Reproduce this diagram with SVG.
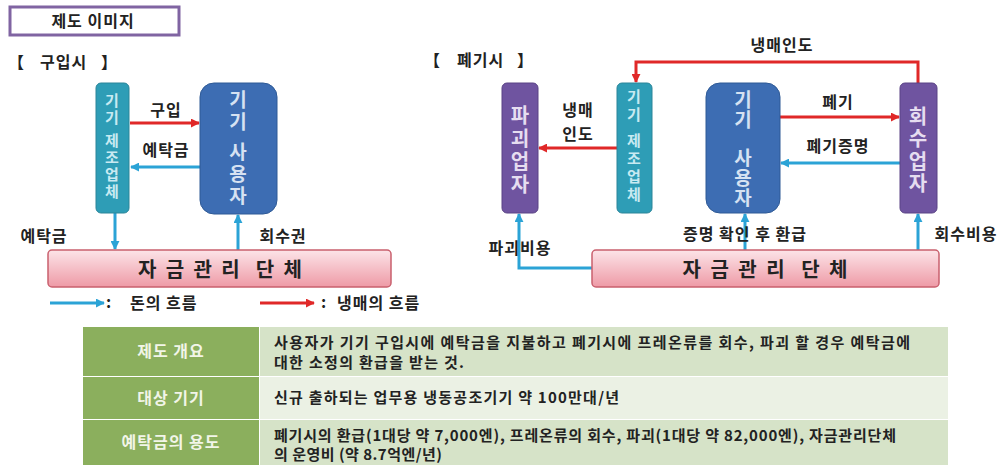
<svg xmlns="http://www.w3.org/2000/svg" width="1005" height="465" viewBox="0 0 1005 465" xml:space="preserve">
<defs>
<style>
text{font-family:"Noto Sans CJK KR","Noto Sans",sans-serif;white-space:pre;}
.lbl{font-size:16px;font-weight:bold;fill:#222;letter-spacing:1px;}
.v{writing-mode:vertical-rl;text-orientation:upright;text-anchor:start;font-weight:bold;}
.vt-teal{font-size:15px;fill:#C8EAF2;}
.vt-big{font-size:19px;fill:#D6E2F2;}
.vt-pur{font-size:20px;fill:#E6DDF0;}
.fund{font-size:20px;font-weight:bold;fill:#222;text-anchor:middle;}
.blue{stroke:#2BA3D6;stroke-width:3;fill:none;}
.red{stroke:#E02828;stroke-width:3;fill:none;}
.teal{fill:#2E9DB6;stroke:#2A8599;stroke-width:1;}
.user{fill:#3D6DB3;stroke:#2F5A96;stroke-width:1;}
.pur{fill:#6F54A0;stroke:#5A4385;stroke-width:1;}
.pink{fill:url(#pg);stroke:#C9606E;stroke-width:1.5;}
.th{font-size:16px;fill:#F2F5E8;text-anchor:middle;font-weight:bold;letter-spacing:1px;}
.td{font-size:15px;fill:#222;font-weight:bold;}
</style>
<linearGradient id="pg" x1="0" y1="0" x2="0" y2="1">
<stop offset="0" stop-color="#FCE4E8"/>
<stop offset="1" stop-color="#EE9AA6"/>
</linearGradient>
<marker id="ab" viewBox="0 0 10 10" refX="9" refY="5" markerWidth="9" markerHeight="9" markerUnits="userSpaceOnUse" orient="auto">
<path d="M0,0 L10,5 L0,10 z" fill="#2BA3D6"/>
</marker>
<marker id="ar" viewBox="0 0 10 10" refX="9" refY="5" markerWidth="9" markerHeight="9" markerUnits="userSpaceOnUse" orient="auto">
<path d="M0,0 L10,5 L0,10 z" fill="#E02828"/>
</marker>
</defs>
<rect width="1005" height="465" fill="#FFFFFF"/>

<g id="title">
<rect x="10" y="7" width="169" height="28" fill="#FFFFFF" stroke="#8064A2" stroke-width="3"/>
<text x="93" y="27" class="lbl" text-anchor="middle">제도 이미지</text>
</g>
<g id="headings">
<text x="8" y="68" class="lbl">【</text>
<text x="40" y="68" class="lbl">구입시</text>
<text x="101" y="68" class="lbl">】</text>
<text x="424" y="66" class="lbl">【</text>
<text x="457" y="66" class="lbl">폐기시</text>
<text x="517" y="66" class="lbl">】</text>
</g>

<g id="connectors">
<line x1="130" y1="123" x2="199" y2="123" class="red" marker-end="url(#ar)"/>
<line x1="200" y1="167" x2="131" y2="167" class="blue" marker-end="url(#ab)"/>
<line x1="115" y1="213" x2="115" y2="249" class="blue" marker-end="url(#ab)"/>
<line x1="238" y1="250" x2="238" y2="215" class="blue" marker-end="url(#ab)"/>
<line x1="617" y1="148" x2="539" y2="148" class="red" marker-end="url(#ar)"/>
<polyline points="593,268 519,268 519,214" class="blue" marker-end="url(#ab)"/>
<line x1="780" y1="117" x2="899" y2="117" class="red" marker-end="url(#ar)"/>
<line x1="900" y1="163" x2="781" y2="163" class="blue" marker-end="url(#ab)"/>
<polyline points="918,83 918,62 636,62 636,82" class="red" marker-end="url(#ar)"/>
<line x1="745" y1="250" x2="745" y2="214" class="blue" marker-end="url(#ab)"/>
<line x1="918" y1="250" x2="918" y2="214" class="blue" marker-end="url(#ab)"/>
<line x1="50" y1="303" x2="104" y2="303" class="blue" marker-end="url(#ab)"/>
<line x1="260" y1="303" x2="314" y2="303" class="red" marker-end="url(#ar)"/>
</g>

<g id="labels">
<text x="166" y="116" class="lbl" text-anchor="middle">구입</text>
<text x="166" y="156" class="lbl" text-anchor="middle">예탁금</text>
<text x="44" y="242" class="lbl" text-anchor="middle">예탁금</text>
<text x="283" y="242" class="lbl" text-anchor="middle">회수권</text>
<text x="578" y="116" class="lbl" text-anchor="middle">냉매</text>
<text x="578" y="140" class="lbl" text-anchor="middle">인도</text>
<text x="520" y="254" class="lbl" text-anchor="middle">파괴비용</text>
<text x="838" y="108" class="lbl" text-anchor="middle">폐기</text>
<text x="838" y="152" class="lbl" text-anchor="middle">폐기증명</text>
<text x="782" y="51" class="lbl" text-anchor="middle">냉매인도</text>
<text x="745" y="240" class="lbl" text-anchor="middle">증명 확인 후 환급</text>
<text x="966" y="240" class="lbl" text-anchor="middle">회수비용</text>
<text x="106" y="308" class="lbl">:</text>
<text x="130" y="309" class="lbl">돈의 흐름</text>
<text x="321" y="308" class="lbl">:</text>
<text x="337" y="309" class="lbl">냉매의 흐름</text>
</g>

<g id="maker-left">
<rect x="96" y="83" width="33" height="130" rx="5" class="teal"/>
<text x="112" y="93" class="v vt-teal" letter-spacing="2">기기<tspan dy="6">제조업체</tspan></text>
</g>
<g id="user-left">
<rect x="200" y="83" width="77" height="131" rx="14" class="user"/>
<text x="238" y="90" class="v vt-big" letter-spacing="3">기기<tspan dy="8">사용자</tspan></text>
</g>
<g id="fund-left">
<rect x="48" y="250" width="343" height="37" rx="4" class="pink"/>
<text x="220" y="277" class="fund" textLength="164" lengthAdjust="spacing">자 금 관 리  단 체</text>
</g>

<g id="destroyer">
<rect x="502" y="83" width="36" height="130" rx="5" class="pur"/>
<text x="520" y="105" class="v vt-pur" letter-spacing="3">파괴업자</text>
</g>
<g id="maker-right">
<rect x="617" y="83" width="35" height="130" rx="5" class="teal"/>
<text x="634" y="89" class="v vt-teal" letter-spacing="3">기기<tspan dy="8">제조업체</tspan></text>
</g>
<g id="user-right">
<rect x="706" y="83" width="74" height="130" rx="14" class="user"/>
<text x="743" y="90" class="v vt-big" letter-spacing="1">기기<tspan dy="18">사용자</tspan></text>
</g>
<g id="collector">
<rect x="900" y="83" width="37" height="130" rx="5" class="pur"/>
<text x="918" y="106" class="v vt-pur" letter-spacing="2.5">회수업자</text>
</g>
<g id="fund-right">
<rect x="592" y="250" width="347" height="37" rx="4" class="pink"/>
<text x="765" y="277" class="fund" textLength="165" lengthAdjust="spacing">자 금 관 리  단 체</text>
</g>

<g id="table">
<rect x="83" y="327" width="176" height="49" fill="#8BAF5D"/>
<rect x="83" y="377" width="176" height="42" fill="#8BAF5D"/>
<rect x="83" y="420" width="176" height="45" fill="#8BAF5D"/>
<rect x="260" y="327" width="688" height="49" fill="#D6E3C8"/>
<rect x="260" y="377" width="688" height="42" fill="#EBF1E4"/>
<rect x="260" y="420" width="688" height="45" fill="#D6E3C8"/>
<text x="171" y="357" class="th">제도 개요</text>
<text x="171" y="404" class="th">대상 기기</text>
<text x="171" y="448" class="th">예탁금의 용도</text>
<text class="td"><tspan x="274" y="348" textLength="636" lengthAdjust="spacing">사용자가 기기 구입시에 예탁금을 지불하고 폐기시에 프레온류를 회수, 파괴 할 경우 예탁금에</tspan><tspan x="274" y="368" textLength="190" lengthAdjust="spacing">대한 소정의 환급을 받는 것.</tspan></text>
<text x="274" y="403" class="td" textLength="345" lengthAdjust="spacing">신규 출하되는 업무용 냉동공조기기 약 100만대/년</text>
<text class="td"><tspan x="274" y="441" textLength="622" lengthAdjust="spacing">폐기시의 환급(1대당 약 7,000엔), 프레온류의 회수, 파괴(1대당 약 82,000엔), 자금관리단체</tspan><tspan x="274" y="460" textLength="168" lengthAdjust="spacing">의 운영비 (약 8.7억엔/년)</tspan></text>
</g>
</svg>
